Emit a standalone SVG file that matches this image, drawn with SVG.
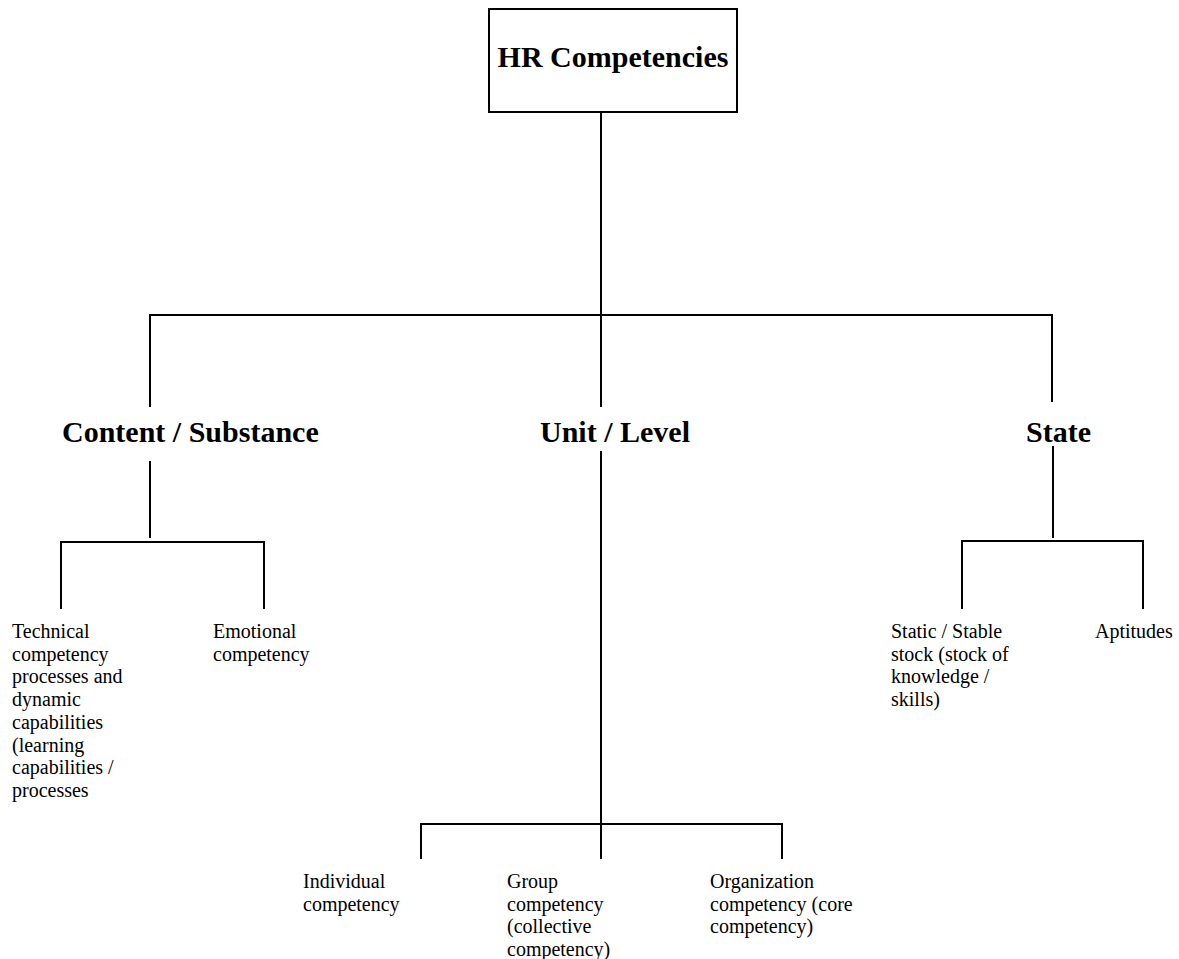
<svg xmlns="http://www.w3.org/2000/svg" width="1179" height="959" viewBox="0 0 1179 959">
<style>
.ln{stroke:#000;stroke-width:2;fill:none;stroke-linecap:square}
.h1{font-family:"Liberation Serif","Times New Roman",serif;font-weight:bold;font-size:30px;fill:#000}
.t{font-family:"Liberation Serif","Times New Roman",serif;font-size:20px;fill:#000}
</style>
<rect width="1179" height="959" fill="#fff"/>
<g id="connectors">
<line class="ln" x1="601" y1="112" x2="601" y2="315"/>
<line class="ln" x1="150" y1="315" x2="1052" y2="315"/>
<line class="ln" x1="150" y1="315" x2="150" y2="406"/>
<line class="ln" x1="601" y1="315" x2="601" y2="406"/>
<line class="ln" x1="1052" y1="315" x2="1052" y2="401"/>
<line class="ln" x1="150" y1="462" x2="150" y2="537"/>
<line class="ln" x1="61" y1="542" x2="264" y2="542"/>
<line class="ln" x1="61" y1="542" x2="61" y2="608"/>
<line class="ln" x1="264" y1="542" x2="264" y2="608"/>
<line class="ln" x1="1053" y1="447" x2="1053" y2="537"/>
<line class="ln" x1="962" y1="541" x2="1143" y2="541"/>
<line class="ln" x1="962" y1="541" x2="962" y2="608"/>
<line class="ln" x1="1143" y1="541" x2="1143" y2="608"/>
<line class="ln" x1="601" y1="452" x2="601" y2="858"/>
<line class="ln" x1="421" y1="824" x2="782" y2="824"/>
<line class="ln" x1="421" y1="824" x2="421" y2="858"/>
<line class="ln" x1="782" y1="824" x2="782" y2="858"/>
</g>
<g id="hr">
<rect x="489" y="9" width="248" height="103" fill="#fff" stroke="#000" stroke-width="2"/>
<text class="h1" x="613" y="67" text-anchor="middle">HR Competencies</text>
</g>
<g id="content"><text class="h1" x="62" y="442">Content / Substance</text></g>
<g id="unit"><text class="h1" x="540" y="442">Unit / Level</text></g>
<g id="state"><text class="h1" x="1026" y="442">State</text></g>
<g id="technical"><text class="t" x="12" y="638">
<tspan x="12" y="638">Technical</tspan>
<tspan x="12" y="660.7">competency</tspan>
<tspan x="12" y="683.4">processes and</tspan>
<tspan x="12" y="706.1">dynamic</tspan>
<tspan x="12" y="728.8">capabilities</tspan>
<tspan x="12" y="751.5">(learning</tspan>
<tspan x="12" y="774.2">capabilities /</tspan>
<tspan x="12" y="796.9">processes</tspan>
</text></g>
<g id="emotional"><text class="t">
<tspan x="213" y="638">Emotional</tspan>
<tspan x="213" y="660.7">competency</tspan>
</text></g>
<g id="static"><text class="t">
<tspan x="891" y="638">Static / Stable</tspan>
<tspan x="891" y="660.7">stock (stock of</tspan>
<tspan x="891" y="683.4">knowledge /</tspan>
<tspan x="891" y="706.1">skills)</tspan>
</text></g>
<g id="aptitudes"><text class="t" x="1095" y="638">Aptitudes</text></g>
<g id="individual"><text class="t">
<tspan x="303" y="888">Individual</tspan>
<tspan x="303" y="910.5">competency</tspan>
</text></g>
<g id="group"><text class="t">
<tspan x="507" y="888">Group</tspan>
<tspan x="507" y="910.5">competency</tspan>
<tspan x="507" y="933">(collective</tspan>
<tspan x="507" y="955.5">competency)</tspan>
</text></g>
<g id="organization"><text class="t">
<tspan x="710" y="888">Organization</tspan>
<tspan x="710" y="910.5">competency (core</tspan>
<tspan x="710" y="933">competency)</tspan>
</text></g>
</svg>
